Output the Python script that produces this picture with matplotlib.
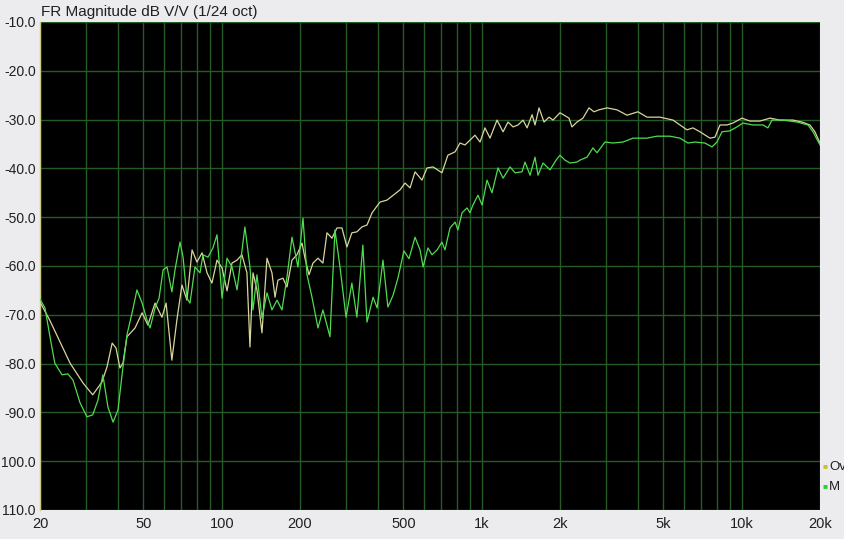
import matplotlib
matplotlib.use("Agg")
import matplotlib.pyplot as plt
from matplotlib.ticker import FixedLocator, NullLocator

plt.rcParams['font.family'] = ['Liberation Sans', 'DejaVu Sans']

title = "FR Magnitude dB V/V (1/24 oct)"

# Yellow trace ("Ov...")
ov_freq = [20, 21.8, 26.1, 29.3, 31.9, 34.6, 36.2, 37.9, 39.2, 40.6, 41.7, 43.2, 46.4, 49.4, 52.0,
           55.4, 58.9, 61.1, 64.3, 67.2, 70.3, 73.5, 76.9, 80.3, 84.0, 87.8, 91.7, 95.9, 100.3,
           104.8, 109.5, 114.5, 119.6, 125, 128.4, 131.9, 136.6, 142.8, 149.3, 156, 160.3, 164.5,
           172, 178.2, 186.3, 194.7, 203.6, 209, 216.6, 224.4, 234.5, 245, 254, 265.5, 277.5, 290,
           303, 316.6, 331, 346, 362, 378.7, 406, 432, 485, 507, 530, 554, 589, 616, 650, 703, 741,
           790, 825, 862, 901, 942, 985, 1029, 1076, 1145, 1208, 1262, 1320, 1379, 1442, 1494,
           1562, 1603, 1661, 1736, 1815, 1880, 2000, 2166, 2224, 2325, 2451, 2585, 2702, 2824,
           3032, 3313, 3620, 3988, 4321, 4848, 5440, 5787, 6157, 6494, 6908, 7548, 7888, 8247,
           8775, 9253, 10022, 10756, 11752, 12840, 14029, 15742, 17049, 18298, 19122, 20000]
ov_db = [-67.4, -71.1, -79.9, -84.0, -86.4, -83.8, -80.7, -75.8, -76.8, -80.9, -79.9, -74.5, -72.7,
         -69.6, -72.1, -67.6, -70.5, -67.6, -79.3, -71.1, -63.9, -67.0, -56.7, -59.2, -57.3, -61.4,
         -63.5, -58.8, -60.4, -65.1, -59.4, -58.8, -57.7, -61.4, -76.6, -61.4, -64.9, -73.7, -58.4,
         -61.4, -66.4, -62.9, -62.5, -64.3, -58.8, -57.7, -55.3, -58.4, -61.8, -59.4, -58.4, -59.4,
         -53.2, -54.3, -52.2, -52.2, -56.1, -53.2, -53.0, -52.0, -51.6, -49.1, -46.9, -46.5, -44.4,
         -43.0, -44.0, -40.7, -42.4, -39.9, -39.7, -40.9, -37.3, -36.6, -34.8, -35.2, -34.2, -33.2,
         -34.6, -31.7, -33.8, -30.1, -32.5, -30.5, -31.5, -31.1, -30.1, -31.7, -29.0, -31.1, -27.6,
         -30.5, -29.5, -30.1, -28.6, -29.7, -31.5, -30.5, -29.7, -27.6, -28.4, -28.0, -27.6, -28.0,
         -29.1, -28.4, -29.5, -29.5, -30.1, -31.1, -32.1, -31.7, -32.5, -33.8, -33.6, -31.1, -31.1,
         -30.7, -29.7, -30.3, -30.3, -29.7, -30.1, -30.1, -30.5, -31.1, -32.5, -34.8]

# Green trace ("M...")
m_freq = [20, 20.9, 21.85, 22.8, 24.3, 25.6, 26.8, 28.5, 30.3, 31.9, 33.4, 34.9, 36.5, 38.2, 39.9,
          41.7, 43.2, 45.2, 47.2, 49.4, 51.6, 53.0, 55.4, 57.4, 59.5, 61.6, 64.3, 66.1, 69.1, 71.0,
          73.5, 75.5, 78.9, 82.5, 84.7, 88.5, 92.5, 95.9, 100.3, 104.8, 109.5, 114.5, 122.8, 128.4,
          131.9, 136.6, 142.8, 149.3, 156.0, 163.1, 170.5, 178.2, 186.3, 196.4, 200, 205.4, 212.8,
          222.4, 234.5, 245, 260.8, 272.6, 285, 300.7, 316.6, 331, 349, 362, 382, 396, 417, 435.6,
          456, 476, 502, 525, 554, 579, 595, 621, 644, 673.5, 703, 722, 755, 790, 810, 840, 878,
          901, 925, 967, 1003, 1048, 1095, 1155, 1208, 1285, 1343, 1429, 1467, 1534, 1603, 1646,
          1721, 1831, 1932, 2000, 2090, 2185, 2325, 2387, 2540, 2678, 2775, 2978, 3198, 3494, 3817,
          4321, 4721, 5297, 5787, 6210, 6608, 7219, 7684, 8031, 8395, 9010, 9586, 10110, 11046,
          12069, 12610, 13071, 14408, 16308, 17971, 18792, 20000]
m_db = [-66.8, -68.6, -74.5, -79.9, -82.3, -82.1, -83.4, -88.0, -90.9, -90.5, -87.5, -82.3, -88.9,
        -92.0, -89.5, -80.7, -74.1, -69.6, -64.9, -67.6, -71.1, -72.7, -68.6, -66.6, -60.8, -60.2,
        -65.3, -60.8, -55.1, -58.2, -66.6, -67.6, -60.2, -61.4, -57.7, -58.2, -56.3, -53.6, -66.6,
        -58.4, -60.2, -64.9, -52.0, -60.2, -69.0, -61.8, -70.7, -65.5, -69.0, -67.0, -69.0, -62.3,
        -54.1, -60.2, -56.1, -50.2, -61.8, -66.4, -72.7, -69.0, -74.5, -52.6, -60.2, -70.5, -63.5,
        -70.5, -55.7, -71.5, -66.4, -68.6, -58.8, -68.4, -66.0, -62.5, -56.9, -58.5, -54.1, -56.7,
        -60.2, -56.3, -57.7, -56.7, -55.1, -56.7, -52.2, -51.0, -52.6, -49.1, -48.1, -49.1, -47.5,
        -45.5, -47.5, -42.4, -45.0, -39.9, -42.0, -39.7, -40.9, -40.7, -38.7, -41.4, -37.7, -41.4,
        -38.9, -40.3, -38.3, -37.3, -38.3, -38.9, -38.7, -38.3, -37.7, -35.8, -36.8, -34.6, -34.8,
        -34.6, -33.8, -33.8, -33.4, -33.4, -33.8, -34.8, -34.6, -34.8, -35.6, -34.6, -32.5, -32.3,
        -31.5, -30.7, -31.1, -31.1, -31.7, -30.1, -30.1, -30.5, -31.1, -32.5, -35.2]

y_ticks = [-10, -20, -30, -40, -50, -60, -70, -80, -90, -100, -110]
y_labels = ["-10.0", "-20.0", "-30.0", "-40.0", "-50.0", "-60.0", "-70.0", "-80.0", "-90.0",
            "100.0", "110.0"]
x_ticks = [20, 50, 100, 200, 500, 1000, 2000, 5000, 10000, 20000]
x_labels = ["20", "50", "100", "200", "500", "1k", "2k", "5k", "10k", "20k"]
x_grid = [20, 30, 40, 50, 60, 70, 80, 90, 100, 200, 300, 400, 500, 600, 700, 800, 900, 1000,
          2000, 3000, 4000, 5000, 6000, 7000, 8000, 9000, 10000, 20000]
legend_names = ["Ov", "M"]

W, H = 845, 539
fig = plt.figure(figsize=(W / 100, H / 100), dpi=100)
fig.patch.set_facecolor('#ecebee')
ax = fig.add_axes([40 / W, (H - 510) / H, 780 / W, 488 / H])
ax.set_facecolor('black')
ax.set_xscale('log')
ax.set_xlim(20, 20000)
ax.set_ylim(-110, -10)

grid_color = '#265a26'
for xv in x_grid:
    ax.axvline(xv, color=grid_color, lw=1.0, zorder=1)
for yv in y_ticks:
    ax.axhline(yv, color=grid_color, lw=1.0, zorder=1)

ax.plot(ov_freq, ov_db, color='#d9d59c', lw=0.9, zorder=3)
ax.plot(m_freq, m_db, color='#4fdc4f', lw=0.9, zorder=4)

ax.xaxis.set_major_locator(FixedLocator(x_ticks))
ax.xaxis.set_minor_locator(NullLocator())
ax.set_xticklabels(x_labels)
ax.set_yticks(y_ticks)
ax.set_yticklabels(y_labels)
ax.tick_params(length=0, labelsize=10.5, colors='#202020')
ax.tick_params(axis='y', pad=3, labelsize=10)
ax.tick_params(axis='x', pad=5)
for s in ['top', 'right', 'bottom']:
    ax.spines[s].set_visible(False)
ax.spines['left'].set_color('#c9c98a')
ax.spines['left'].set_linewidth(1.0)

fig.text(41 / W, 1 - 12 / H, title, fontsize=11, color='#202020', va='center', ha='left')

leg_colors = ['#c8c030', '#30d030']
for i, (nm, c) in enumerate(zip(legend_names, leg_colors)):
    yy = 1 - (467 + 20 * i) / H
    fig.text(823 / W, yy, '\u25a0', color=c, fontsize=6, va='center', ha='left')
    fig.text(829 / W, yy, nm, color='#202020', fontsize=9.5, va='center', ha='left')

fig.savefig('out.png', dpi=100, facecolor=fig.get_facecolor())
